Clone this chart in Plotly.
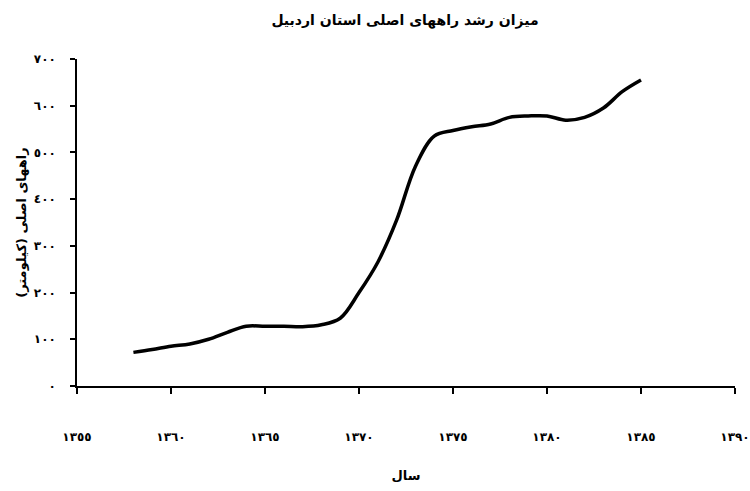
import plotly.graph_objects as go

years = [1358, 1359, 1360, 1361, 1362, 1363, 1364, 1365, 1366, 1367, 1368, 1369,
         1370, 1371, 1372, 1373, 1374, 1375, 1376, 1377, 1378, 1379, 1380, 1381,
         1382, 1383, 1384, 1385]
roads_km = [72, 78, 85, 90, 100, 115, 128, 128, 128, 127, 131, 145,
            200, 265, 355, 470, 535, 547, 555, 561, 575, 578, 578, 569,
            575, 595, 630, 655]

x_tickvals = [1355, 1360, 1365, 1370, 1375, 1380, 1385, 1390]
x_ticktext = ["١٣٥٥", "١٣٦٠", "١٣٦٥", "١٣٧٠", "١٣٧٥", "١٣٨٠", "١٣٨٥", "١٣٩٠"]
y_tickvals = [0, 100, 200, 300, 400, 500, 600, 700]
y_ticktext = ["٠", "١٠٠", "٢٠٠", "٣٠٠", "٤٠٠", "٥٠٠", "٦٠٠", "٧٠٠"]

title_text = "<b>میزان رشد راههای اصلی استان اردبیل</b>"
x_title = "<b>سال</b>"
y_title = "<b>راههای اصلی (کیلومتر)</b>"

FONT = "DejaVu Sans, Noto Sans, sans-serif"

fig = go.Figure()
fig.add_trace(go.Scatter(
    x=years, y=roads_km, mode="lines",
    line=dict(color="black", width=3.5, shape="spline", smoothing=1.0),
    showlegend=False, hoverinfo="skip",
))

fig.update_layout(
    width=750, height=491,
    margin=dict(l=77, r=15, t=59, b=105),
    paper_bgcolor="white", plot_bgcolor="white",
    font=dict(family=FONT, color="black", size=13),
    title=dict(text=title_text, x=0.54, xanchor="center", y=0.96, yanchor="middle",
               font=dict(family=FONT, size=14, color="black")),
)
fig.update_xaxes(
    range=[1355, 1390], tickmode="array", tickvals=x_tickvals, ticktext=x_ticktext,
    automargin=False, ticklabeloverflow="allow",
    showline=True, linecolor="black", linewidth=1.5, showgrid=False, zeroline=False,
    ticks="outside", ticklen=6, tickcolor="black", tickwidth=1.5,
    tickfont=dict(family=FONT, size=12, color="black", weight="bold"),
    ticklabelstandoff=33,
    title=dict(text=x_title, standoff=28, font=dict(family=FONT, size=13, color="black")),
)
fig.update_yaxes(
    range=[0, 700], tickmode="array", tickvals=y_tickvals, ticktext=y_ticktext,
    automargin=False,
    showline=True, linecolor="black", linewidth=1.5, showgrid=False, zeroline=False,
    ticks="outside", ticklen=5, tickcolor="black", tickwidth=1.5,
    tickfont=dict(family=FONT, size=12, color="black", weight="bold"),
    ticklabelstandoff=12,
    title=dict(text=y_title, standoff=4, font=dict(family=FONT, size=13, color="black")),
)

fig.write_html("out.html", config={"displayModeBar": False},
               post_script="document.body.style.margin='0';document.body.style.overflow='hidden';")
